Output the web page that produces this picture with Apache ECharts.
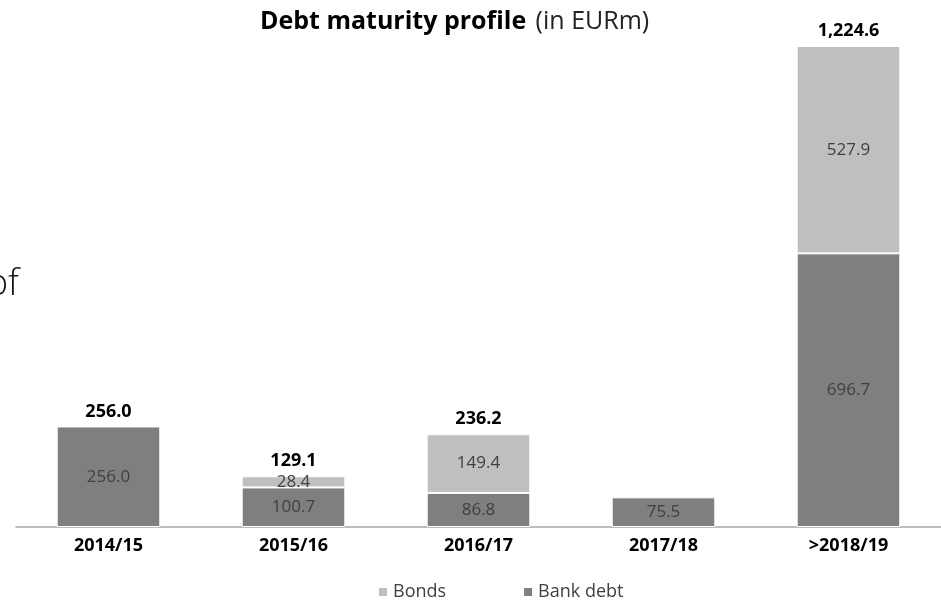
<!DOCTYPE html>
<html>
<head>
<meta charset="utf-8">
<script src="https://cdn.jsdelivr.net/npm/echarts@6/dist/echarts.min.js"></script>
<style>
  html, body { margin: 0; padding: 0; background: #fff; }
  #chart { width: 941px; height: 600px; }
</style>
</head>
<body>
<div id="chart"></div>
<script>
// Debt maturity profile, EUR millions
const periods = ['2014/15', '2015/16', '2016/17', '2017/18', '>2018/19'];
const bankDebt = [256.0, 100.7, 86.8, 75.5, 696.7];
const bonds = [null, 28.4, 149.4, null, 527.9];
const totals = [256.0, 129.1, 236.2, null, 1224.6];

const FONT = '"Open Sans", "Noto Sans", sans-serif';
const fmt = v => Number(v).toLocaleString('en-US', { minimumFractionDigits: 1, maximumFractionDigits: 1 });

const chart = echarts.init(document.getElementById('chart'));
chart.setOption({
  animation: false,
  textStyle: { fontFamily: FONT },
  title: {
    text: '{b|Debt maturity profile}  {n|(in EURm)}',
    left: 255,
    top: 4,
    textStyle: {
      rich: {
        b: { fontFamily: FONT, fontWeight: 'bold', fontSize: 25, color: '#000' },
        n: { fontFamily: FONT, fontWeight: 'normal', fontSize: 25, color: '#222' }
      }
    }
  },
  graphic: [{
    type: 'text',
    left: -13,
    top: 267,
    style: { text: 'of', font: '300 36px ' + FONT, fill: '#111' }
  }],
  legend: {
    data: ['Bonds', 'Bank debt'],
    left: 372,
    top: 578,
    itemWidth: 10,
    itemHeight: 10,
    itemGap: 76,
    icon: 'rect',
    textStyle: { fontFamily: FONT, fontSize: 18, color: '#404040' }
  },
  grid: { left: 16, right: 0, top: 46, bottom: 73, containLabel: false },
  xAxis: {
    type: 'category',
    data: periods,
    axisTick: { show: false },
    axisLine: { lineStyle: { color: '#a6a6a6', width: 1.5 } },
    axisLabel: { fontFamily: FONT, fontWeight: 'bold', fontSize: 18, color: '#000', margin: 10 }
  },
  yAxis: { type: 'value', min: 0, max: 1224.6, show: false, splitLine: { show: false } },
  series: [
    {
      name: 'Bank debt',
      type: 'bar',
      stack: 'debt',
      barWidth: '56%',
      data: bankDebt,
      itemStyle: { color: '#7f7f7f', borderColor: '#fff', borderWidth: 1 },
      label: { show: true, position: 'inside', fontFamily: FONT, fontSize: 17, color: '#404040', formatter: p => fmt(p.value) }
    },
    {
      name: 'Bonds',
      type: 'bar',
      stack: 'debt',
      barWidth: '56%',
      data: bonds,
      itemStyle: { color: '#bfbfbf', borderColor: '#fff', borderWidth: 1 },
      label: { show: true, position: 'inside', fontFamily: FONT, fontSize: 17, color: '#404040', formatter: p => fmt(p.value) }
    },
    {
      name: 'Total',
      type: 'bar',
      barWidth: '56%',
      barGap: '-100%',
      data: totals,
      silent: true,
      z: 1,
      itemStyle: { color: 'rgba(0,0,0,0)' },
      label: { show: true, position: 'top', distance: 6, fontFamily: FONT, fontWeight: 'bold', fontSize: 18, color: '#000', formatter: p => fmt(p.value) }
    }
  ]
});
</script>
</body>
</html>
